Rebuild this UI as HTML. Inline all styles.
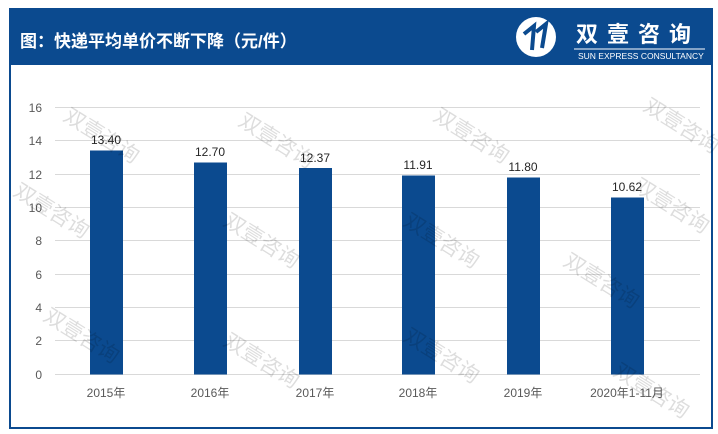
<!DOCTYPE html>
<html><head><meta charset="utf-8"><style>
body{margin:0;background:#fff;width:718px;height:434px;overflow:hidden;font-family:"Liberation Sans","Noto Sans CJK SC",sans-serif;}
.frame{position:absolute;left:9px;top:8px;width:700px;height:417px;border:2px solid #0b4a8f;}
.hdr{position:absolute;left:9px;top:8px;width:704px;height:57px;background:#0b4a8f;}
.t{position:absolute;left:20px;top:27px;color:#fff;font-size:17px;font-weight:bold;}
.wm{position:absolute;color:#000;opacity:.13;font-size:21px;transform:rotate(32deg);white-space:nowrap;}
</style></head><body>
<div class="frame"></div>
<div class="hdr"></div>
<div class="t">图：快递平均单价不断下降（元/件）</div>
<svg style="position:absolute;left:510px;top:12px" width="200" height="52">
<circle cx="26" cy="25" r="20" fill="#fff"/>
<path d="M14 22 L24 14 L22 38 M26 20 L36 12 L32 36" stroke="#0b4a8f" stroke-width="4" fill="none"/>
<text x="66" y="30" fill="#fff" font-size="22" font-weight="bold" letter-spacing="9" font-family="Noto Sans CJK SC,sans-serif">双壹咨询</text>
<line x1="64" y1="37" x2="195" y2="37" stroke="#fff" stroke-width="1"/>
<text x="68" y="47" fill="#fff" font-size="8.5" font-family="Liberation Sans,sans-serif">SUN EXPRESS CONSULTANCY</text>
</svg>
<svg style="position:absolute;left:0;top:0" width="718" height="434" font-family="Liberation Sans,Noto Sans CJK SC,sans-serif">
<g stroke="#d9d9d9" stroke-width="1">
<line x1="55" x2="700" y1="107.5" y2="107.5"/><line x1="55" x2="700" y1="140.5" y2="140.5"/>
<line x1="55" x2="700" y1="174.5" y2="174.5"/><line x1="55" x2="700" y1="207.5" y2="207.5"/>
<line x1="55" x2="700" y1="240.5" y2="240.5"/><line x1="55" x2="700" y1="274.5" y2="274.5"/>
<line x1="55" x2="700" y1="307.5" y2="307.5"/><line x1="55" x2="700" y1="340.5" y2="340.5"/>
<line x1="55" x2="700" y1="374.5" y2="374.5"/>
</g>
<g font-size="12" fill="#595959" text-anchor="end">
<text x="42" y="112">16</text><text x="42" y="145">14</text><text x="42" y="179">12</text>
<text x="42" y="212">10</text><text x="42" y="245">8</text><text x="42" y="279">6</text>
<text x="42" y="312">4</text><text x="42" y="345">2</text><text x="42" y="379">0</text>
</g>
<g fill="#0b4a8f">
<rect x="90" y="150.5" width="33" height="224"/>
<rect x="194" y="162.5" width="33" height="212"/>
<rect x="299" y="168" width="33" height="206.5"/>
<rect x="402" y="175.5" width="33" height="199"/>
<rect x="507" y="177.5" width="33" height="197"/>
<rect x="611" y="197.5" width="33" height="177"/>
</g>
<g font-size="12" fill="#262626" text-anchor="middle">
<text x="106" y="144">13.40</text><text x="210" y="156">12.70</text><text x="315" y="162">12.37</text>
<text x="418" y="169">11.91</text><text x="523" y="171">11.80</text><text x="627" y="191">10.62</text>
</g>
<g font-size="12" fill="#595959" text-anchor="middle">
<text x="106" y="397">2015年</text><text x="210" y="397">2016年</text><text x="315" y="397">2017年</text>
<text x="418" y="397">2018年</text><text x="523" y="397">2019年</text><text x="627" y="397">2020年1-11月</text>
</g>
</svg>
<div class="wm" style="left:60px;top:120px">双壹咨询</div>
<div class="wm" style="left:235px;top:125px">双壹咨询</div>
<div class="wm" style="left:430px;top:120px">双壹咨询</div>
<div class="wm" style="left:640px;top:110px">双壹咨询</div>
<div class="wm" style="left:10px;top:195px">双壹咨询</div>
<div class="wm" style="left:220px;top:225px">双壹咨询</div>
<div class="wm" style="left:400px;top:225px">双壹咨询</div>
<div class="wm" style="left:630px;top:190px">双壹咨询</div>
<div class="wm" style="left:560px;top:265px">双壹咨询</div>
<div class="wm" style="left:40px;top:320px">双壹咨询</div>
<div class="wm" style="left:220px;top:345px">双壹咨询</div>
<div class="wm" style="left:400px;top:340px">双壹咨询</div>
<div class="wm" style="left:610px;top:375px">双壹咨询</div>
</body></html>
